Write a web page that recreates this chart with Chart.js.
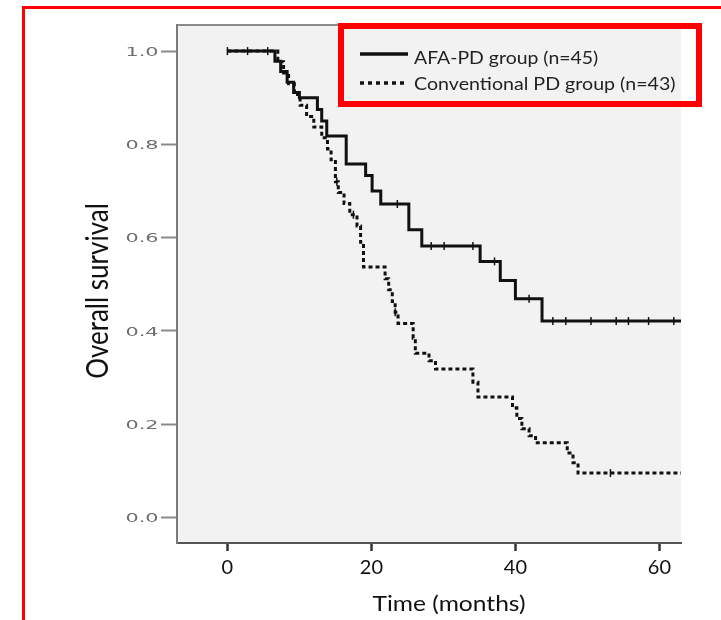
<!DOCTYPE html>
<html>
<head>
<meta charset="utf-8">
<script src="https://cdn.jsdelivr.net/npm/chart.js@4.4.0/dist/chart.umd.min.js"></script>
<style>
  html, body { margin: 0; padding: 0; background: #fff; overflow: hidden; }
  #wrap { position: relative; width: 721px; height: 620px; }
  #frame { position: absolute; left: 22px; top: 6px; width: 800px; height: 700px; border: 3px solid #f00; box-sizing: border-box; pointer-events: none; }
</style>
</head>
<body>
<div id="wrap">
  <canvas id="km" width="721" height="620"></canvas>
  <div id="frame"></div>
</div>
<script>
'use strict'

const afaLabel = 'AFA-PD group (n=45)'
const convLabel = 'Conventional PD group (n=43)'
const xTitle = 'Time (months)'
const yTitle = 'Overall survival'

const xTicks = [0, 20, 40, 60]
const yTicks = [0, 0.2, 0.4, 0.6, 0.8, 1.0]
const yTickLabels = ['0.0', '0.2', '0.4', '0.6', '0.8', '1.0']

// step points: time of event, survival just after it (last entry = end of follow-up)
const afaTime = [0, 6.6, 7.4, 8.3, 9.2, 10.0, 12.5, 13.1, 13.8, 16.5, 19.2, 20.1, 21.3, 25.2, 27.0, 35.1, 37.9, 40.0, 43.7, 63]
const afaSurv = [1, 0.978, 0.956, 0.933, 0.911, 0.900, 0.875, 0.850, 0.818, 0.758, 0.733, 0.700, 0.672, 0.617, 0.582, 0.549, 0.508, 0.469, 0.421, 0.421]
const afaCensor = [0, 2.8, 5.6, 23.6, 28.3, 30.1, 34.1, 37.1, 41.9, 45.2, 47.0, 50.5, 54.0, 55.7, 58.5, 62.0]

const convTime = [0, 7.0, 7.8, 8.5, 9.3, 10.1, 11.0, 12.0, 13.1, 13.9, 14.4, 15.0, 15.4, 16.2, 17.0, 18.0, 18.5, 18.9, 21.9, 22.4, 22.9, 23.3, 23.7, 25.8, 26.1, 28.0, 28.9, 34.1, 34.8, 39.6, 40.2, 40.9, 41.9, 42.8, 47.2, 48.0, 48.7, 63]
const convSurv = [1, 0.977, 0.953, 0.930, 0.907, 0.884, 0.860, 0.837, 0.814, 0.790, 0.767, 0.720, 0.697, 0.673, 0.649, 0.625, 0.590, 0.537, 0.512, 0.488, 0.463, 0.440, 0.416, 0.384, 0.352, 0.336, 0.318, 0.290, 0.258, 0.235, 0.212, 0.190, 0.175, 0.160, 0.138, 0.117, 0.095, 0.095]
const convCensor = [15.2, 17.5, 23.3, 53.2]

function toPoints(times, surv) {
  return times.map((t, i) => ({ x: t, y: surv[i] }))
}

// survival of the step curve at time t
function survAt(times, surv, t) {
  let s = surv[0]
  times.forEach((tt, i) => {
    if (tt <= t) s = surv[i]
  })
  return s
}

function censorPoints(censor, times, surv) {
  return censor.map(t => ({ x: t, y: survAt(times, surv, t) }))
}

function stretchText(ctx, text, x, y, sx, align) {
  ctx.save()
  ctx.translate(x, y)
  ctx.scale(sx, 1)
  ctx.textAlign = align
  ctx.fillText(text, 0, 0)
  ctx.restore()
}

const kmDecor = {
  id: 'kmDecor',
  beforeDraw(chart) {
    const ctx = chart.ctx
    const { left, top, right, bottom } = chart.chartArea
    ctx.save()
    ctx.fillStyle = '#f2f2f2'
    ctx.fillRect(left, top, right - left, bottom - top)
    ctx.strokeStyle = '#8a8a8a'
    ctx.lineWidth = 2
    ctx.beginPath()
    ctx.moveTo(left, top)
    ctx.lineTo(right, top)
    ctx.stroke()
    ctx.restore()
  },
  afterDraw(chart) {
    const ctx = chart.ctx
    const yScale = chart.scales.y
    ctx.save()
    ctx.textBaseline = 'alphabetic'

    // y tick labels (wide grey digits)
    ctx.fillStyle = '#6e6e6e'
    ctx.font = '13px "DejaVu Sans"'
    yTicks.forEach((v, i) => {
      stretchText(ctx, yTickLabels[i], 158.5, yScale.getPixelForValue(v) + 4.8, 1.6, 'right')
    })

    // axis titles
    ctx.fillStyle = '#111'
    ctx.font = '21px Lato'
    stretchText(ctx, xTitle, 449, 611, 1.17, 'center')

    ctx.save()
    ctx.translate(98, 291)
    ctx.rotate(-Math.PI / 2)
    ctx.scale(1, 1.2)
    ctx.font = '26px Lato'
    ctx.textAlign = 'center'
    ctx.textBaseline = 'middle'
    ctx.fillText(yTitle, 0, 0)
    ctx.restore()

    // legend in red box
    ctx.strokeStyle = '#f00'
    ctx.lineWidth = 6
    ctx.strokeRect(341, 26, 358, 78)

    ctx.strokeStyle = '#111'
    ctx.lineWidth = 3.5
    ctx.beginPath()
    ctx.moveTo(360, 54)
    ctx.lineTo(408, 54)
    ctx.stroke()
    ctx.setLineDash([4, 4])
    ctx.beginPath()
    ctx.moveTo(360, 83)
    ctx.lineTo(408, 83)
    ctx.stroke()
    ctx.setLineDash([])

    ctx.fillStyle = '#222'
    ctx.font = '18px Lato'
    stretchText(ctx, afaLabel, 414, 63.5, 1.08, 'left')
    stretchText(ctx, convLabel, 414, 90, 1.09, 'left')
    ctx.restore()
  }
}

new Chart(document.getElementById('km'), {
  type: 'line',
  data: {
    datasets: [{
      label: afaLabel,
      data: toPoints(afaTime, afaSurv),
      stepped: 'before',
      borderColor: '#111',
      borderWidth: 3,
      pointRadius: 0,
      fill: false
    }, {
      label: convLabel,
      data: toPoints(convTime, convSurv),
      stepped: 'before',
      borderColor: '#111',
      borderWidth: 3,
      borderDash: [4, 3],
      pointRadius: 0,
      fill: false
    }, {
      type: 'scatter',
      label: 'AFA-PD censored',
      data: censorPoints(afaCensor, afaTime, afaSurv),
      pointStyle: 'line',
      pointRotation: 90,
      pointRadius: 4,
      pointBorderColor: '#111',
      pointBorderWidth: 1.5
    }, {
      type: 'scatter',
      label: 'Conventional PD censored',
      data: censorPoints(convCensor, convTime, convSurv),
      pointStyle: 'line',
      pointRotation: 90,
      pointRadius: 4,
      pointBorderColor: '#111',
      pointBorderWidth: 1.5
    }]
  },
  options: {
    responsive: false,
    animation: false,
    layout: { padding: { top: 25, right: 40, left: 0, bottom: 0 } },
    plugins: {
      legend: { display: false },
      tooltip: { enabled: false }
    },
    scales: {
      x: {
        type: 'linear',
        min: -7,
        max: 63,
        afterBuildTicks: s => { s.ticks = xTicks.map(v => ({ value: v })) },
        afterFit: s => { s.height = 77 },
        grid: { drawOnChartArea: false, drawTicks: true, tickLength: 8, tickColor: '#333', tickWidth: 2.5 },
        border: { color: '#555', width: 2 },
        ticks: { color: '#111', font: { family: 'Lato', size: 20 }, padding: 5, callback: v => String(v) }
      },
      y: {
        type: 'linear',
        min: -0.055,
        max: 1.056,
        afterBuildTicks: s => { s.ticks = yTicks.map(v => ({ value: v })) },
        afterFit: s => { s.width = 177 },
        grid: { drawOnChartArea: false, drawTicks: true, tickLength: 16, tickColor: '#8a8a8a', tickWidth: 2 },
        border: { color: '#7a7a7a', width: 2 },
        ticks: { display: false }
      }
    }
  },
  plugins: [kmDecor]
})
</script>
</body>
</html>
